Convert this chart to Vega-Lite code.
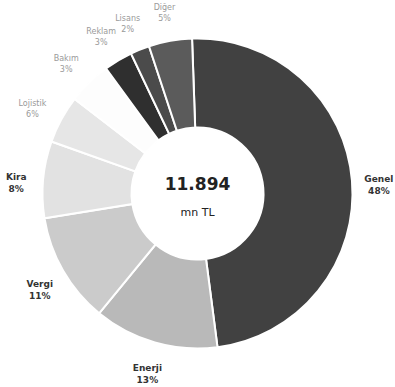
{
  "$schema": "https://vega.github.io/schema/vega-lite/v6.json",
  "width": 395,
  "height": 387,
  "autosize": {"type": "fit", "contains": "padding"},
  "padding": 0,
  "background": "white",
  "config": {"view": {"stroke": null}},
  "data": {
    "values": [
      {"order": 1, "category": "Genel", "value": 48.5, "pct": "48%"},
      {"order": 2, "category": "Enerji", "value": 13, "pct": "13%"},
      {"order": 3, "category": "Vergi", "value": 11.5, "pct": "11%"},
      {"order": 4, "category": "Kira", "value": 8, "pct": "8%"},
      {"order": 5, "category": "Lojistik", "value": 5, "pct": "6%"},
      {"order": 6, "category": "Bakım", "value": 4.5, "pct": "3%"},
      {"order": 7, "category": "Reklam", "value": 3, "pct": "3%"},
      {"order": 8, "category": "Lisans", "value": 2, "pct": "2%"},
      {"order": 9, "category": "Diğer", "value": 4.5, "pct": "5%"}
    ]
  },
  "transform": [
    {"stack": "value", "groupby": [], "sort": [{"field": "order", "order": "ascending"}], "as": ["v0", "v1"]},
    {"calculate": "(datum.v0 + datum.v1) / 2", "as": "mid"},
    {"calculate": "datum.category + '\\n' + datum.pct", "as": "label"}
  ],
  "layer": [
    {
      "mark": {"type": "arc", "outerRadius": 155, "innerRadius": 66, "stroke": "white", "strokeWidth": 2},
      "encoding": {
        "theta": {"field": "v0", "type": "quantitative", "scale": {"domain": [0, 100], "range": [-0.035, 6.248]}},
        "theta2": {"field": "v1"},
        "color": {
          "field": "category",
          "type": "nominal",
          "legend": null,
          "scale": {
            "domain": ["Genel", "Enerji", "Vergi", "Kira", "Lojistik", "Bakım", "Reklam", "Lisans", "Diğer"],
            "range": ["#414141", "#b9b9b9", "#cbcbcb", "#e2e2e2", "#e6e6e6", "#fdfdfd", "#2f2f2f", "#4b4b4b", "#5b5b5b"]
          }
        }
      }
    },
    {
      "transform": [{"filter": "datum.value >= 8"}],
      "mark": {"type": "text", "radius": 182, "lineBreak": "\n", "fontSize": 9, "fontWeight": "bold", "font": "DejaVu Sans", "color": "#333333", "lineHeight": 12},
      "encoding": {
        "theta": {"field": "mid", "type": "quantitative", "scale": {"domain": [0, 100], "range": [-0.035, 6.248]}},
        "text": {"field": "label"}
      }
    },
    {
      "transform": [{"filter": "datum.value < 8"}],
      "mark": {"type": "text", "radius": 188, "lineBreak": "\n", "fontSize": 8, "font": "DejaVu Sans", "color": "#9a9a9a", "lineHeight": 11},
      "encoding": {
        "theta": {"field": "mid", "type": "quantitative", "scale": {"domain": [0, 100], "range": [-0.035, 6.248]}},
        "text": {"field": "label"}
      }
    },
    {
      "data": {"values": [{"t": "11.894"}]},
      "transform": [],
      "mark": {"type": "text", "fontSize": 17, "fontWeight": "bold", "font": "DejaVu Sans", "color": "#222222", "dy": -9},
      "encoding": {"text": {"field": "t"}}
    },
    {
      "data": {"values": [{"t": "mn TL"}]},
      "transform": [],
      "mark": {"type": "text", "fontSize": 11, "font": "DejaVu Sans", "color": "#222222", "dy": 19},
      "encoding": {"text": {"field": "t"}}
    }
  ]
}
